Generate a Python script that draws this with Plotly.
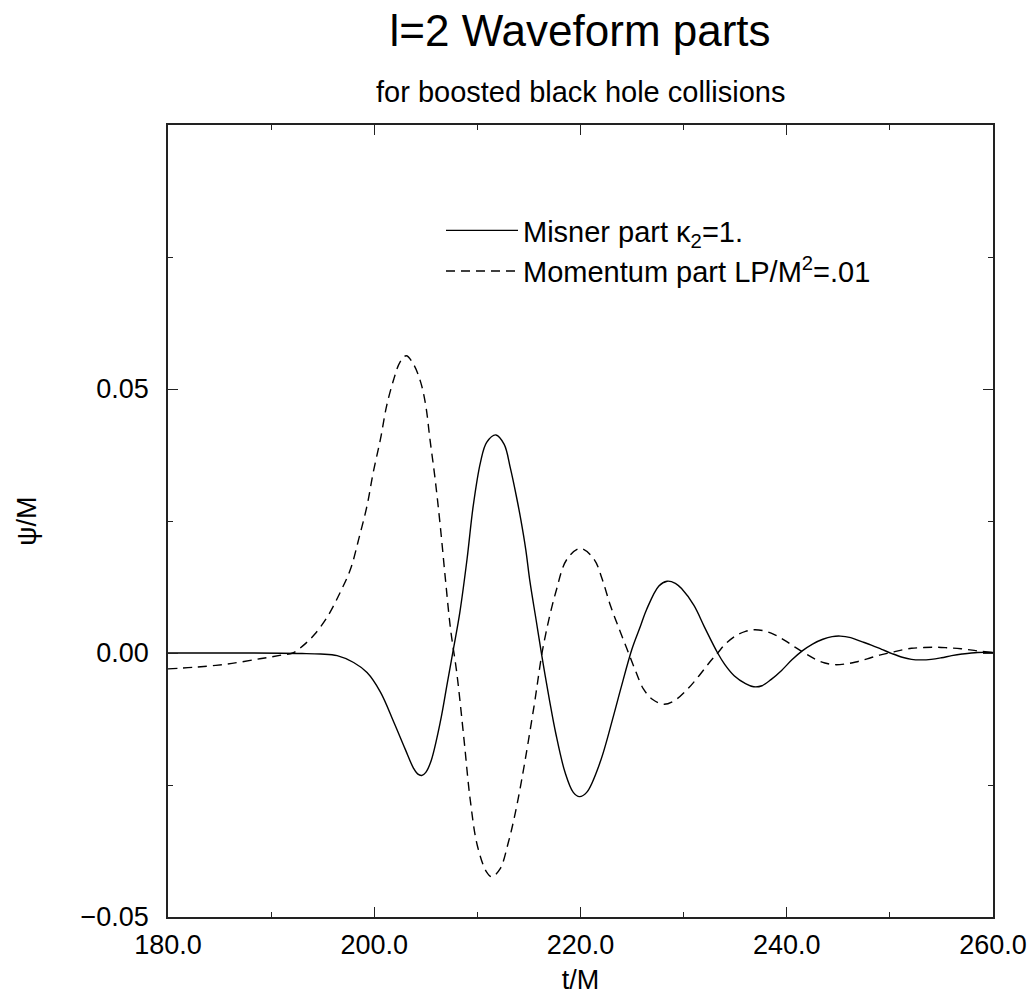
import plotly.graph_objects as go

# ---- data ----
t_misner = [180, 184, 188, 191, 193, 194.8, 196.4, 198.0, 199.3, 200.6, 201.9, 203.0, 203.8,
            204.2, 204.6, 205.0, 205.5, 206.4, 207.1, 207.7, 208.3, 209.0, 209.6, 210.3, 210.9,
            211.8, 212.6, 213.2, 213.8, 214.2, 214.7, 215.1, 215.7, 216.3, 217.0, 217.6, 218.5,
            219.3, 219.9, 220.6, 221.9, 223.2, 223.9, 225.0, 225.8, 226.4, 227.6, 228.4, 229.2,
            229.8, 231.0, 232.0, 233.3, 234.0, 234.9, 236.0, 236.8, 237.6, 238.5, 239.5, 240.5,
            241.5, 242.5, 243.5, 244.4, 245.2, 246.2, 247.2, 248.2, 249.2, 250.2, 251.2, 252.1,
            253.0, 254.0, 255.0, 256.0, 257.0, 258.5, 260]
psi_misner = [0, 0, 0, -0.00005, -0.0001, -0.0002, -0.0005, -0.0018, -0.0037, -0.0074, -0.0131,
              -0.0182, -0.0218, -0.0229, -0.0232, -0.0226, -0.0205, -0.0131, -0.0055, 0.0010,
              0.0077, 0.0178, 0.0279, 0.0361, 0.0399, 0.0413, 0.0395, 0.0350, 0.0295, 0.0254,
              0.0195, 0.0135, 0.0062, -0.0011, -0.0090, -0.0152, -0.0226, -0.0264, -0.0272,
              -0.0264, -0.0207, -0.0119, -0.0068, 0.0008, 0.0050, 0.0082, 0.0127, 0.0136,
              0.0132, 0.0122, 0.0090, 0.0050, 0.0000, -0.0022, -0.0043, -0.0058, -0.0064,
              -0.0062, -0.0050, -0.0033, -0.0013, 0.0004, 0.0017, 0.0026, 0.0031, 0.0032,
              0.0029, 0.0022, 0.0015, 0.0007, -0.0001, -0.0008, -0.0012, -0.0013, -0.0012,
              -0.0009, -0.0005, -0.0002, 0.0001, 0.0001]

t_momentum = [180, 182.5, 185.7, 188.9, 191.0, 192.1, 193.1, 194.2, 195.5, 196.7, 197.7, 198.5,
              199.3, 199.9, 200.6, 201.2, 201.9, 202.5, 203.1, 203.8, 204.5, 205.0, 205.4,
              205.9, 206.4, 206.9, 207.4, 208.0, 208.7, 209.3, 210.0, 210.9, 211.4, 212.2,
              213.0, 213.6, 214.3, 215.5, 216.4, 217.6, 218.7, 220.0, 221.3, 222.1, 222.9,
              223.7, 224.5, 225.3, 226.1, 227.0, 228.1, 229.2, 230.4, 231.5, 232.5, 233.3,
              234.0, 235.0, 236.0, 236.8, 237.8, 238.8, 239.8, 240.8, 241.8, 242.8, 243.7,
              244.6, 245.6, 246.7, 247.8, 249.0, 250.1, 251.2, 252.1, 253.0, 254.2, 255.5,
              256.9, 258.5, 260]
psi_momentum = [-0.0030, -0.0027, -0.0021, -0.0011, -0.0004, 0.0000, 0.0014, 0.0035, 0.0070,
                0.0115, 0.0159, 0.0216, 0.0279, 0.0342, 0.0405, 0.0468, 0.0519, 0.0551, 0.0563,
                0.0547, 0.0513, 0.0468, 0.0405, 0.0330, 0.0241, 0.0140, 0.0045, -0.0037,
                -0.0163, -0.0277, -0.0365, -0.0415, -0.0424, -0.0409, -0.0359, -0.0310,
                -0.0240, -0.0100, 0.0014, 0.0115, 0.0178, 0.0198, 0.0178, 0.0140, 0.0090,
                0.0048, 0.0008, -0.0032, -0.0068, -0.0088, -0.0097, -0.0089, -0.0068, -0.0043,
                -0.0018, 0.0000, 0.0016, 0.0032, 0.0041, 0.0044, 0.0042, 0.0035, 0.0024,
                0.0011, -0.0001, -0.0012, -0.0019, -0.0022, -0.0021, -0.0017, -0.0011,
                -0.0004, 0.0001, 0.0006, 0.0009, 0.0010, 0.0011, 0.0010, 0.0008, 0.0004, 0.0001]

x_ticks = [180, 200, 220, 240, 260]
x_ticklabels = ["180.0", "200.0", "220.0", "240.0", "260.0"]
y_ticks = [-0.05, 0.0, 0.05]
y_ticklabels = ["\u22120.05", "0.00", "0.05"]

FONT = "Liberation Sans, Arial, Helvetica, sans-serif"

fig = go.Figure()
fig.add_trace(go.Scatter(
    x=t_misner, y=psi_misner, mode="lines",
    name="Misner part \u03ba<sub>2</sub>=1.",
    line=dict(color="black", width=1.4, shape="spline", smoothing=1.0),
))
fig.add_trace(go.Scatter(
    x=t_momentum, y=psi_momentum, mode="lines",
    name="Momentum part LP/M<sup>2</sup>=.01",
    line=dict(color="black", width=1.4, dash="9px,6px", shape="spline", smoothing=1.0),
))

axis_common = dict(
    showline=True, linecolor="#222", linewidth=1.5, mirror="ticks",
    ticks="inside", ticklen=10, tickwidth=1.3, tickcolor="#222",
    showgrid=False, zeroline=False, automargin=False,
    tickfont=dict(family=FONT, size=27, color="black"),
)

fig.update_layout(
    width=1034, height=998, autosize=False,
    margin=dict(l=168, r=41, t=125, b=81),
    paper_bgcolor="white", plot_bgcolor="white",
    font=dict(family=FONT, color="black"),
    title=dict(text="l=2 Waveform parts", x=0.561, xanchor="center",
               y=1 - 31 / 998, yanchor="middle", yref="container",
               font=dict(family=FONT, size=44, color="black")),
    xaxis=dict(
        range=[180, 260], tickmode="array", tickvals=x_ticks, ticktext=x_ticklabels,
        minor=dict(tickmode="linear", tick0=180, dtick=10, ticks="inside",
                   ticklen=5, tickwidth=1.2, tickcolor="#222", showgrid=False),
        ticklabelstandoff=3,
        title=dict(text="t/M", font=dict(family=FONT, size=27), standoff=11),
        **axis_common,
    ),
    yaxis=dict(
        range=[-0.05, 0.10], tickmode="array", tickvals=y_ticks, ticktext=y_ticklabels,
        minor=dict(tickmode="linear", tick0=-0.05, dtick=0.025, ticks="inside",
                   ticklen=5, tickwidth=1.2, tickcolor="#222", showgrid=False),
        ticklabelstandoff=12,
        title=dict(text="\u03c8/M", font=dict(family=FONT, size=27), standoff=36),
        **axis_common,
    ),
    legend=dict(
        x=(441 - 168) / 825, y=0.899, xanchor="left", yanchor="top",
        bgcolor="rgba(0,0,0,0)", borderwidth=0, itemwidth=72,
        font=dict(family=FONT, size=29, color="black"),
        tracegroupgap=0,
    ),
    showlegend=True,
    annotations=[dict(
        text="for boosted black hole collisions", xref="paper", yref="paper",
        x=0.5, y=(917 - 92) / 792, xanchor="center", yanchor="middle",
        showarrow=False, font=dict(family=FONT, size=29, color="black"),
    )],
)

fig.write_html("out.html")
